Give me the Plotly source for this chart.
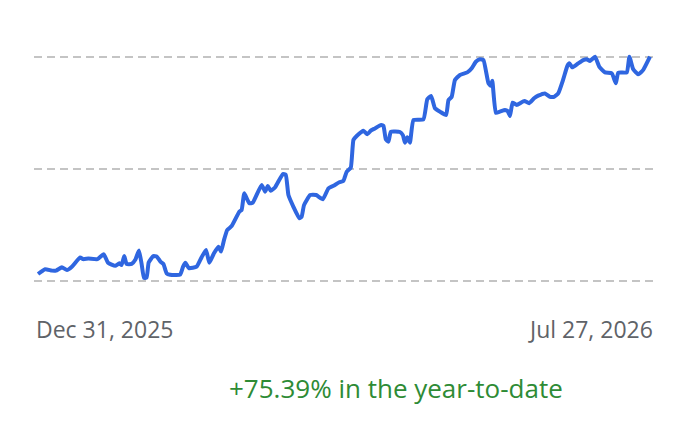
import plotly.graph_objects as go
import pandas as pd

# days since Dec 31, 2025 and the value (gridlines at 100 / 140 / 180)
days = [0, 2.4, 4.7, 6.1, 8.1, 9.8, 11.5, 14.3, 15.4, 17.1, 20.2, 22.3, 23.8, 26.2, 27.6,
        28.4, 29.3, 30.1, 31.8, 33.1, 34.3, 35.2, 36.0, 36.9, 37.6, 39.2, 40.4, 41.6, 42.6,
        43.7, 44.9, 48.3, 49.3, 50.1, 51.3, 53.9, 55.6, 57.1, 58.2, 59.8, 61.3, 62.2, 63.2,
        64.3, 65.8, 68.4, 69.2, 70.1, 71.8, 73.0, 76.0, 77.2, 78.1, 79.1, 80.6, 83.2, 84.2,
        85.1, 86.8, 88.8, 89.6, 90.4, 92.5, 94.5, 96.8, 98.7, 100.4, 102.4, 103.8, 104.9,
        106.3, 107.2, 108.3, 110.6, 111.9, 113.1, 114.5, 116.6, 117.4, 118.2, 119.1, 119.9,
        123.0, 124.0, 124.7, 125.5, 126.4, 127.6, 131.0, 132.3, 133.6, 134.9, 136.6, 138.7,
        139.5, 140.6, 141.7, 143.4, 145.9, 147.4, 148.8, 150.2, 151.4, 153.1, 153.9, 154.4,
        155.6, 157.0, 158.7, 159.6, 160.4, 161.3, 162.7, 165.3, 166.9, 168.6, 170.0, 172.3,
        174.0, 175.4, 176.8, 178.5, 179.9, 180.6, 181.6, 183.6, 185.3, 186.5, 187.6, 189.3,
        190.8, 192.7, 195.0, 196.4, 197.2, 200.1, 201.0, 202.3, 204.0, 205.7, 208.0]
values = [102.5, 104.2, 103.7, 103.7, 104.9, 103.9, 105.1, 108.4, 107.8, 108.0, 107.8, 109.6,
          106.5, 105.4, 106.3, 105.7, 108.9, 106.1, 106.1, 107.7, 110.9, 106.1, 101.1, 101.2,
          106.6, 108.9, 108.7, 106.9, 106.1, 102.75, 102.25, 102.25, 105.1, 106.5, 104.6,
          105.1, 108.5, 111.1, 106.5, 109.9, 112.25, 110.5, 114.6, 118.2, 119.6, 124.75,
          125.4, 131.3, 127.75, 128.0, 134.3, 131.9, 133.9, 132.25, 133.5, 138.2, 137.9,
          130.7, 126.5, 122.4, 123.0, 127.1, 130.7, 130.7, 129.2, 133.1, 134.0, 135.25,
          135.8, 139.0, 140.5, 150.4, 151.8, 153.7, 152.4, 153.7, 154.5, 155.7, 155.4, 150.6,
          149.75, 153.3, 153.2, 152.1, 149.4, 151.3, 149.4, 157.5, 157.75, 164.9, 166.1,
          161.7, 160.5, 159.3, 164.6, 165.8, 171.8, 173.6, 174.5, 176.0, 178.3, 179.2, 178.9,
          170.6, 169.75, 171.5, 160.1, 160.5, 161.1, 160.7, 158.9, 163.7, 162.9, 164.3,
          163.5, 165.25, 166.2, 167.0, 165.8, 165.8, 167.0, 172.0, 176.8, 177.75, 176.3,
          177.75, 178.9, 179.2, 178.6, 180.1, 176.5, 174.5, 174.2, 170.6, 174.4, 174.5,
          180.1, 175.6, 173.8, 175.4, 180.1]

start_label = "Dec 31, 2025"
end_label = "Jul 27, 2026"
ytd_text = "+75.39% in the year-to-date"
grid_values = [100, 140, 180]

start = pd.Timestamp("2025-12-31")
dates = start + pd.to_timedelta(days, unit="D")

fig = go.Figure()
fig.add_trace(go.Scatter(x=dates, y=values, mode="lines",
                         line=dict(color="#2f66e0", width=4, shape="spline", smoothing=0.4),
                         hoverinfo="skip"))

# page body has an 8px margin, so plot area is pulled up/left by 8px
fig.update_layout(
    width=684, height=438,
    margin=dict(l=26, r=37, t=37, b=153),
    plot_bgcolor="white", paper_bgcolor="white",
    showlegend=False,
    font=dict(family="Open Sans", size=23),
    xaxis=dict(range=[start - pd.Timedelta(hours=33), start + pd.Timedelta(days=209.7)],
               showgrid=False, zeroline=False, showline=False, showticklabels=False),
    yaxis=dict(range=[95.71, 184.29], tickvals=grid_values, showticklabels=False,
               showgrid=True, gridcolor="#c4c4c4", gridwidth=2.2, griddash="8px,5px",
               zeroline=False, showline=False),
)

fig.add_annotation(text=start_label, xref="paper", yref="paper", x=0, y=-0.147,
                   xanchor="left", yanchor="middle", showarrow=False,
                   font=dict(color="#5f6368", size=23))
fig.add_annotation(text=end_label, xref="paper", yref="paper", x=1, y=-0.147,
                   xanchor="right", yanchor="middle", showarrow=False,
                   font=dict(color="#5f6368", size=23))
fig.add_annotation(text=ytd_text, xref="paper", yref="paper", x=0.5837, y=-0.383,
                   xanchor="center", yanchor="middle", showarrow=False,
                   font=dict(color="#2e8b35", size=26))

fig.write_html("out.html")
